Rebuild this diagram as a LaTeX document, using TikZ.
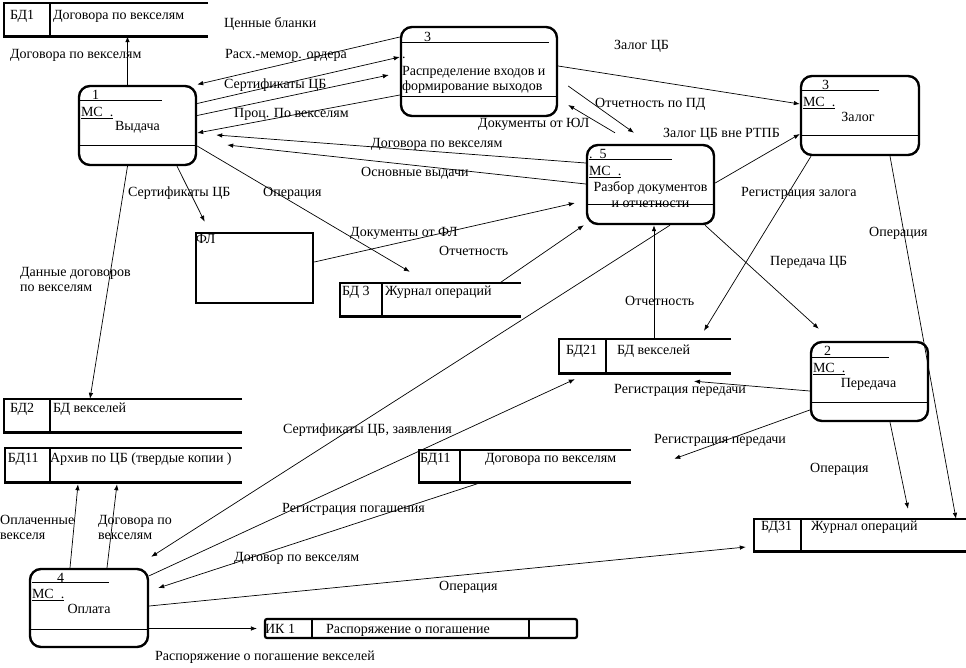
\documentclass[tikz,border=0pt]{standalone}
\usepackage{fontspec}
\setmainfont{Liberation Serif}
\usetikzlibrary{arrows.meta,calc}

\begin{document}
\begin{tikzpicture}[x=1pt, y=-1pt, font=\fontsize{14}{15}\selectfont,
  proc/.style={draw, line width=2.4pt, rounded corners=11pt, inner sep=0pt},
  store/.style={inner sep=0pt},
  storeline/.style={line width=2.6pt},
  midline/.style={line width=1.2pt},
  hdrline/.style={line width=0.8pt},
  lbl/.style={anchor=west, inner sep=0pt, text height=9pt, text depth=3pt, yshift=-2pt},
  flow/.style={-{Latex[length=6pt,width=4.5pt]}, line width=0.7pt}]
  \useasboundingbox (0,0) rectangle (966,667);

  % processes
  \node[proc, minimum width=117pt, minimum height=79pt] (p1) at (137.5,125.5) {};
  \draw[midline] ([yshift=21pt]p1.south west) -- ([yshift=21pt]p1.south east);
  \draw[hdrline] ([xshift=1pt,yshift=-16pt]p1.north west) -- ++(83,0);
  \node[lbl] at ([xshift=14pt,yshift=-10pt]p1.north west) {1};
  \node[lbl] at ([xshift=3pt,yshift=-27pt]p1.north west) {\underline{МС\ \ .}};
  \node[lbl, anchor=center] at ([yshift=-41pt]p1.north) {Выдача};

  \node[proc, minimum width=156pt, minimum height=89pt] (p3) at (479,71.5) {};
  \draw[midline] ([yshift=21pt]p3.south west) -- ([yshift=21pt]p3.south east);
  \draw[hdrline] ([xshift=2pt,yshift=-17pt]p3.north west) -- ++(147,0);
  \node[lbl] at ([xshift=24pt,yshift=-11pt]p3.north west) {3};
  \node[lbl] at ([xshift=2pt,yshift=-28pt]p3.north west) {.};
  \node[lbl, anchor=north west, align=left, text height=, text depth=] at ([xshift=2pt,yshift=-38pt]p3.north west)
    {Распределение входов и\\формирование выходов};

  \node[proc, minimum width=118pt, minimum height=79pt] (pz) at (860,115.5) {};
  \draw[midline] ([yshift=21pt]pz.south west) -- ([yshift=21pt]pz.south east);
  \draw[hdrline] ([xshift=2pt,yshift=-16pt]pz.north west) -- ++(77,0);
  \node[lbl] at ([xshift=22pt,yshift=-10pt]pz.north west) {3};
  \node[lbl] at ([xshift=3pt,yshift=-27pt]pz.north west) {\underline{МС\ \ .}};
  \node[lbl, anchor=center] at ([xshift=-2pt,yshift=-42pt]pz.north) {Залог};

  \node[proc, minimum width=127pt, minimum height=79pt] (p5) at (650.5,184.5) {};
  \draw[midline] ([yshift=21pt]p5.south west) -- ([yshift=21pt]p5.south east);
  \draw[hdrline] ([xshift=3pt,yshift=-16pt]p5.north west) -- ++(83,0);
  \node[lbl] at ([xshift=3pt,yshift=-10pt]p5.north west) {.\ \ 5};
  \node[lbl] at ([xshift=3pt,yshift=-27pt]p5.north west) {\underline{МС\ \ .}};
  \node[lbl, anchor=center] at ([yshift=-43pt]p5.north) {Разбор документов};
  \node[lbl, anchor=center] at ([yshift=-59pt]p5.north) {и отчетности};

  \node[proc, minimum width=117pt, minimum height=79pt] (p2) at (869.5,381.5) {};
  \draw[midline] ([yshift=20pt]p2.south west) -- ([yshift=20pt]p2.south east);
  \draw[hdrline] ([xshift=2pt,yshift=-17pt]p2.north west) -- ++(77,0);
  \node[lbl] at ([xshift=14pt,yshift=-10pt]p2.north west) {2};
  \node[lbl] at ([xshift=3pt,yshift=-27pt]p2.north west) {\underline{МС\ \ .}};
  \node[lbl, anchor=center] at ([xshift=-1pt,yshift=-42pt]p2.north) {Передача};

  \node[proc, minimum width=118pt, minimum height=78pt] (p4) at (89,608) {};
  \draw[midline] ([yshift=19pt]p4.south west) -- ([yshift=19pt]p4.south east);
  \draw[hdrline] ([xshift=3pt,yshift=-15pt]p4.north west) -- ++(77,0);
  \node[lbl] at ([xshift=28pt,yshift=-10pt]p4.north west) {4};
  \node[lbl] at ([xshift=3pt,yshift=-26pt]p4.north west) {\underline{МС\ \ .}};
  \node[lbl, anchor=center] at ([yshift=-41pt]p4.north) {Оплата};

  % external entity
  \node[draw, line width=2.6pt, minimum width=117pt, minimum height=70pt, inner sep=0pt] (fl) at (254.5,268) {};
  \node[lbl] at ([xshift=1pt,yshift=-7pt]fl.north west) {ФЛ};

  % data stores
  \node[store, minimum width=204pt, minimum height=33pt] (bd1) at (106,19.5) {};
  \draw[storeline] (bd1.north east) -- (bd1.north west) -- (bd1.south west) -- (bd1.south east);
  \draw[storeline] ([xshift=46pt]bd1.north west) -- ([xshift=46pt]bd1.south west);
  \node[lbl] at ([xshift=6pt,yshift=-12pt]bd1.north west) {БД1};
  \node[lbl] at ([xshift=49pt,yshift=-12pt]bd1.north west) {Договора по векселям};

  \node[store, minimum width=181pt, minimum height=33pt] (bd3) at (430.5,299.5) {};
  \draw[storeline] (bd3.north east) -- (bd3.north west) -- (bd3.south west) -- (bd3.south east);
  \draw[storeline] ([xshift=42pt]bd3.north west) -- ([xshift=42pt]bd3.south west);
  \node[lbl] at ([xshift=2pt,yshift=-8pt]bd3.north west) {БД 3};
  \node[lbl] at ([xshift=45pt,yshift=-8pt]bd3.north west) {Журнал операций};

  \node[store, minimum width=238pt, minimum height=33pt] (bd2) at (123,415.5) {};
  \draw[storeline] (bd2.north east) -- (bd2.north west) -- (bd2.south west) -- (bd2.south east);
  \draw[storeline] ([xshift=46pt]bd2.north west) -- ([xshift=46pt]bd2.south west);
  \node[lbl] at ([xshift=6pt,yshift=-9pt]bd2.north west) {БД2};
  \node[lbl] at ([xshift=49pt,yshift=-9pt]bd2.north west) {БД векселей};

  \node[store, minimum width=237pt, minimum height=34pt] (bd11a) at (123.5,465) {};
  \draw[storeline] (bd11a.north east) -- (bd11a.north west) -- (bd11a.south west) -- (bd11a.south east);
  \draw[storeline] ([xshift=45pt]bd11a.north west) -- ([xshift=45pt]bd11a.south west);
  \node[lbl] at ([xshift=3pt,yshift=-10pt]bd11a.north west) {БД11};
  \node[lbl] at ([xshift=45pt,yshift=-10pt]bd11a.north west) {Архив по ЦБ (твердые копии )};

  \node[store, minimum width=172pt, minimum height=34pt] (bd21) at (645,356) {};
  \draw[storeline] (bd21.north east) -- (bd21.north west) -- (bd21.south west) -- (bd21.south east);
  \draw[storeline] ([xshift=47pt]bd21.north west) -- ([xshift=47pt]bd21.south west);
  \node[lbl] at ([xshift=7pt,yshift=-11pt]bd21.north west) {БД21};
  \node[lbl] at ([xshift=58pt,yshift=-11pt]bd21.north west) {БД векселей};

  \node[store, minimum width=212pt, minimum height=32pt] (bd11b) at (525,466) {};
  \draw[storeline] (bd11b.north east) -- (bd11b.north west) -- (bd11b.south west) -- (bd11b.south east);
  \draw[storeline] ([xshift=41pt]bd11b.north west) -- ([xshift=41pt]bd11b.south west);
  \node[lbl] at ([xshift=1pt,yshift=-8pt]bd11b.north west) {БД11};
  \node[lbl] at ([xshift=66pt,yshift=-8pt]bd11b.north west) {Договора по векселям};

  \node[store, minimum width=214pt, minimum height=32pt] (bd31) at (861,535) {};
  \draw[storeline] (bd31.north east) -- (bd31.north west) -- (bd31.south west) -- (bd31.south east);
  \draw[storeline] ([xshift=47pt]bd31.north west) -- ([xshift=47pt]bd31.south west);
  \node[lbl] at ([xshift=7pt,yshift=-7pt]bd31.north west) {БД31};
  \node[lbl] at ([xshift=57pt,yshift=-7pt]bd31.north west) {Журнал операций};

  \node[draw, line width=2.2pt, rounded corners=2pt, minimum width=312pt, minimum height=19pt, inner sep=0pt] (ik1) at (421,628.5) {};
  \draw[storeline] ([xshift=48pt]ik1.north west) -- ([xshift=48pt]ik1.south west);
  \draw[storeline] ([xshift=-49pt]ik1.north east) -- ([xshift=-49pt]ik1.south east);
  \node[lbl] at ([xshift=1pt]ik1.west) {ИК 1};
  \node[lbl] at ([xshift=62pt]ik1.west) {Распоряжение о погашение};

  % flows
  \draw[flow] ([xshift=-10pt]p1.north) -- ([xshift=-10pt]p1.north |- bd1.south);
  \draw[flow] ([yshift=34.5pt]p3.west) -- ([yshift=41pt]p1.east);
  \draw[flow] ([yshift=22pt]p1.east) -- ([yshift=14.5pt]p3.west);
  \draw[flow] ([yshift=10pt]p1.east) -- ([xshift=-11pt,yshift=-3.5pt]p3.west);
  \draw[flow] ([yshift=-23.5pt]p3.west) -- ([yshift=-7.5pt]p1.east);
  \draw[flow] ([yshift=21.5pt]p5.west) -- ([xshift=19pt,yshift=-9.5pt]p1.east);
  \draw[flow] ([yshift=0.5pt]p5.west) -- ([xshift=30pt,yshift=-19.5pt]p1.east);
  \draw[flow] ([xshift=39.5pt]p1.south) -- ([xshift=10pt,yshift=10pt]fl.north west);
  \draw[flow] ([yshift=-20.5pt]p1.east) -- ([xshift=70pt,yshift=11pt]bd3.north west);
  \draw[flow] ([xshift=-10pt]p1.south) -- ([xshift=-33pt]bd2.north);
  \draw[flow] ([yshift=6pt]fl.east) -- ([xshift=-11pt,yshift=-18.5pt]p5.west);
  \draw[flow] ([xshift=69.5pt]bd3.north) -- ([xshift=-2pt]p5.south west);
  \draw[flow] ([xshift=10pt,yshift=-14.5pt]p3.east) -- ([xshift=-16.5pt,yshift=11pt]p5.north);
  \draw[flow] ([xshift=-35.5pt,yshift=11pt]p5.north) -- ([xshift=10pt,yshift=-33.5pt]p3.east);
  \draw[flow] ([yshift=5.5pt]p3.east) -- ([yshift=11.5pt]pz.west);
  \draw[flow] ([yshift=1.5pt]p5.east) -- ([yshift=-18.5pt]pz.west);
  \draw[flow] ([xshift=-49pt]pz.south) -- ([xshift=59pt,yshift=8pt]bd21.north);
  \draw[flow] ([xshift=30pt]pz.south) -- ([xshift=95pt]bd31.north);
  \draw[flow] ([xshift=54.5pt]p5.south) -- ([xshift=9pt,yshift=12pt]p2.north west);
  \draw[flow] ([xshift=9pt]bd21.north) -- ([xshift=9pt]bd21.north |- p5.south);
  \draw[flow] ([yshift=-9.5pt]p2.west) -- ([xshift=49pt,yshift=-8pt]bd21.south);
  \draw[flow] ([yshift=-28.5pt]p2.west) -- ([xshift=43pt,yshift=-9pt]bd11b.north east);
  \draw[flow] ([xshift=20.5pt]p2.south) -- ([xshift=47pt,yshift=10pt]bd31.north);
  \draw[flow] ([xshift=19.5pt]p5.south) -- ([xshift=2pt,yshift=11pt]p4.north east);
  \draw[flow] ([yshift=-8pt]p4.north east) -- ([xshift=16pt,yshift=-6pt]bd21.south west);
  \draw[flow] ([xshift=-43pt]bd11b.south) -- ([xshift=9pt,yshift=20pt]p4.east);
  \draw[flow] ([yshift=2pt]p4.east) -- ([xshift=-8pt,yshift=-12pt]bd31.west);
  \draw[flow] (p4.east |- ik1.west) -- ([xshift=-7pt]ik1.west);
  \draw[flow] ([xshift=-19pt]p4.north) -- ([xshift=-45.5pt,yshift=-2pt]bd11a.south);
  \draw[flow] ([xshift=18pt]p4.north) -- ([xshift=-6.5pt,yshift=-2pt]bd11a.south);

  % flow labels
  \node[lbl] at (224,22) {Ценные бланки};
  \node[lbl] at (10,53) {Договора по векселям};
  \node[lbl] at (225,53) {Расх.-мемор. ордера};
  \node[lbl] at (224,83) {Сертификаты ЦБ};
  \node[lbl] at (234,112) {Проц. По векселям};
  \node[lbl] at (614,44) {Залог ЦБ};
  \node[lbl] at (595,102) {Отчетность по ПД};
  \node[lbl] at (478,122) {Документы от ЮЛ};
  \node[lbl] at (663,132) {Залог ЦБ вне РТПБ};
  \node[lbl] at (371,142) {Договора по векселям};
  \node[lbl] at (361,171) {Основные выдачи};
  \node[lbl] at (128,191) {Сертификаты ЦБ};
  \node[lbl] at (263,191) {Операция};
  \node[lbl] at (741,191) {Регистрация залога};
  \node[lbl] at (350,231) {Документы от ФЛ};
  \node[lbl] at (869,231) {Операция};
  \node[lbl] at (439,250) {Отчетность};
  \node[lbl] at (770,260) {Передача ЦБ};
  \node[lbl, align=left, text height=, text depth=] at (20,277.5) {Данные договоров\\по векселям};
  \node[lbl] at (625,300) {Отчетность};
  \node[lbl] at (614,388) {Регистрация передачи};
  \node[lbl] at (283,428) {Сертификаты ЦБ, заявления};
  \node[lbl] at (654,438) {Регистрация передачи};
  \node[lbl] at (810,467) {Операция};
  \node[lbl] at (282,507) {Регистрация погашения};
  \node[lbl, align=left, text height=, text depth=] at (0,525) {Оплаченные\\векселя};
  \node[lbl, align=left, text height=, text depth=] at (98,525) {Договора по\\векселям};
  \node[lbl] at (234,556) {Договор по векселям};
  \node[lbl] at (439,585) {Операция};
  \node[lbl] at (155,655) {Распоряжение о погашение векселей};
\end{tikzpicture}
\end{document}
